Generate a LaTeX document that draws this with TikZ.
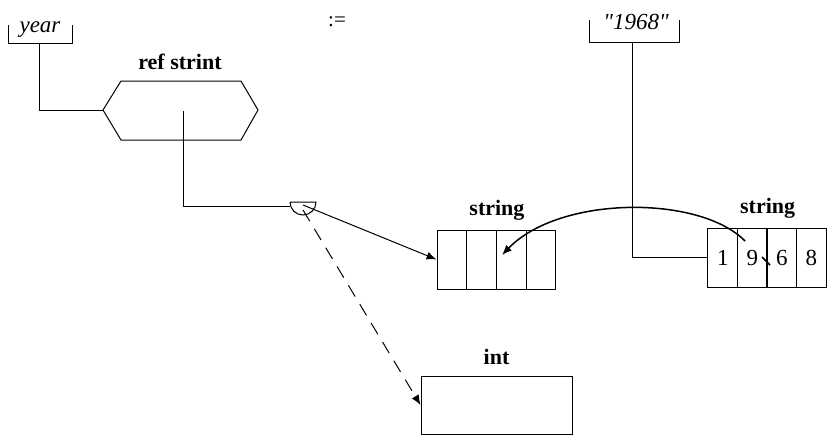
\documentclass[tikz,border=0pt]{standalone}
\usepackage{fontspec}
\setmainfont{Liberation Serif}
\newfontfamily\quotefont[Ligatures=TeXOff]{Liberation Serif}
\usetikzlibrary{arrows.meta,positioning}

\tikzset{
    tag/.style={font=\bfseries\fontsize{22}{26}\selectfont, inner sep=0pt},
    idf/.style={font=\quotefont\itshape\fontsize{23}{26}\selectfont, inner sep=0pt},
    cell/.style={draw, minimum width=29.7pt, minimum height=59pt, inner sep=0pt,
        font=\fontsize{23}{26}\selectfont},
    ptr/.style={-{Latex[length=10pt,width=8pt]}},
}

\begin{document}
\begin{tikzpicture}[x=1pt,y=-1pt,line width=1pt]
    \useasboundingbox (0,0) rectangle (827,437);
    % year
    \node[idf,anchor=base] (year) at (40,32) {year};
    \draw (8,25) |- (72,43) -- (72,25);
    \coordinate (yearfoot) at (39,43);
    % ref strint
    \coordinate (hexw) at (103,110);
    \coordinate (hextop) at (180,81);
    \coordinate (hexin) at (183,111);
    \draw (hexw) -- (121,81) -- (241,81) -- (258,110) -- (241,140) -- (121,140) -- cycle;
    \node[tag,above=11pt of hextop] (reflbl) {ref strint};
    \draw (yearfoot) |- (hexw);
    % :=
    \node[font=\fontsize{21}{24}\selectfont, inner sep=0pt] (becomes) at (337,22) {:=};
    % "1968"
    \node[idf,anchor=base] (lit) at (636,29) {"1968"};
    \draw (589,20) |- (679,42) -- (679,20);
    \coordinate (litfoot) at (632,42);
    % string boxes
    \foreach \i in {0,...,3}
        \node[cell] (a\i) at (451.9+29.7*\i,259.5) {};
    \foreach \d [count=\i from 0] in {1,9,6,8}
        \node[cell] (b\i) at (722.8+29.5*\i,257.5) {\d};
    \node[tag,above=9pt of a1.north east] (str1) {string};
    \node[tag,above=9pt of b1.north east] (str2) {string};
    % int
    \node[draw, minimum width=151pt, minimum height=58pt, inner sep=0pt] (intbox) at (496.5,405) {};
    \node[tag,above=10pt of intbox] (intlbl) {int};
    % knot
    \coordinate (knot) at (303,205);
    \coordinate (knotw) at (290,206);
    \draw (290,202) -- (316,202) arc[start angle=0, end angle=-180, radius=13pt];
    \draw (hexin) |- (knotw);
    \draw[ptr] (knot) -- (a0.west);
    \draw[ptr, dash pattern=on 13pt off 9pt] (303,210) -- (intbox.west);
    % copy
    \draw (litfoot) |- (b0.west);
    \coordinate (ninetop) at (745,241);
    \coordinate (a2in) at (502,255);
    \draw[ptr, line width=1.5pt] (ninetop) .. controls (700,195) and (560,195) .. (a2in);
    \draw[line width=1.5pt] (762,257) -- (770,265);
\end{tikzpicture}
\end{document}
